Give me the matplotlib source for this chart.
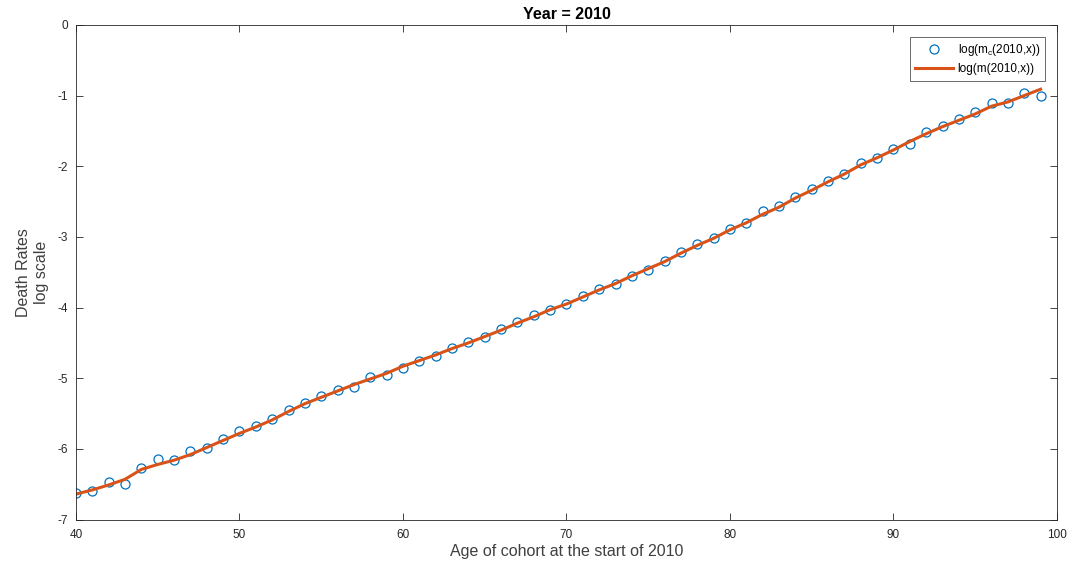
import matplotlib.pyplot as plt
import numpy as np

plt.rcParams['font.family'] = ['Liberation Sans', 'DejaVu Sans']
plt.rcParams['mathtext.fontset'] = 'custom'
plt.rcParams['mathtext.rm'] = 'Liberation Sans'
plt.rcParams['mathtext.it'] = 'Liberation Sans'
plt.rcParams['axes.unicode_minus'] = False

# ages of the cohort at the start of 2010
ages = np.arange(40, 100)

# observed log death rates (circles)
log_mc = [
    -6.63, -6.59, -6.47, -6.49, -6.27, -6.14, -6.15, -6.03, -5.99, -5.86,
    -5.74, -5.68, -5.58, -5.45, -5.35, -5.25, -5.16, -5.13, -4.98, -4.95,
    -4.85, -4.75, -4.68, -4.57, -4.49, -4.41, -4.31, -4.21, -4.11, -4.04,
    -3.95, -3.84, -3.74, -3.67, -3.56, -3.47, -3.34, -3.22, -3.10, -3.01,
    -2.89, -2.81, -2.64, -2.56, -2.43, -2.32, -2.21, -2.11, -1.96, -1.89,
    -1.75, -1.68, -1.51, -1.43, -1.33, -1.23, -1.11, -1.11, -0.97, -1.00,
]

# fitted log death rates (line)
log_m = [
    -6.64, -6.58, -6.51, -6.43, -6.29, -6.22, -6.16, -6.08, -5.98, -5.88,
    -5.78, -5.69, -5.59, -5.47, -5.36, -5.27, -5.18, -5.09, -5.01, -4.93,
    -4.83, -4.75, -4.67, -4.58, -4.50, -4.41, -4.32, -4.22, -4.13, -4.03,
    -3.95, -3.85, -3.75, -3.66, -3.55, -3.45, -3.35, -3.23, -3.12, -3.02,
    -2.90, -2.80, -2.68, -2.58, -2.45, -2.34, -2.22, -2.11, -1.98, -1.88,
    -1.77, -1.65, -1.54, -1.44, -1.35, -1.26, -1.15, -1.09, -1.00, -0.91,
]

axis_color = '#262626'

fig = plt.figure(figsize=(10.76, 5.66), dpi=100)
ax = fig.add_axes([0.0706, 0.082, 0.9117, 0.874])

ax.plot(ages, log_mc, 'o', markersize=6.5, markerfacecolor='none',
        markeredgecolor='#0072BD', markeredgewidth=0.9,
        label=r'log(m$_{\rm c}$(2010,x))')
ax.plot(ages, log_m, '-', color='#D95319', linewidth=2.2,
        label='log(m(2010,x))')

ax.set_xlim(40, 100)
ax.set_ylim(-7, 0)
ax.set_xticks(np.arange(40, 101, 10))
ax.set_yticks(np.arange(-7, 1, 1))

ax.tick_params(direction='in', top=True, right=True, length=5, width=0.6,
               colors=axis_color, labelsize=8.5)
ax.tick_params(axis='x', pad=7)
ax.tick_params(axis='y', pad=6)
for sp in ax.spines.values():
    sp.set_color(axis_color)
    sp.set_linewidth(0.6)

ax.set_title('Year = 2010', fontsize=11.5, fontweight='bold', pad=4)
ax.set_xlabel('Age of cohort at the start of 2010', fontsize=11.5,
              color='#404040', labelpad=2)
ax.set_ylabel('Death Rates\nlog scale', fontsize=11.5, color='#404040',
              labelpad=6)

leg = ax.legend(loc='upper right', fontsize=8.5, frameon=True, fancybox=False,
                edgecolor=axis_color, borderaxespad=1.0, handlelength=3.2,
                handletextpad=0.4, labelspacing=0.45, borderpad=0.45)
leg.get_frame().set_linewidth(0.6)

fig.savefig('out.png', dpi=100)
